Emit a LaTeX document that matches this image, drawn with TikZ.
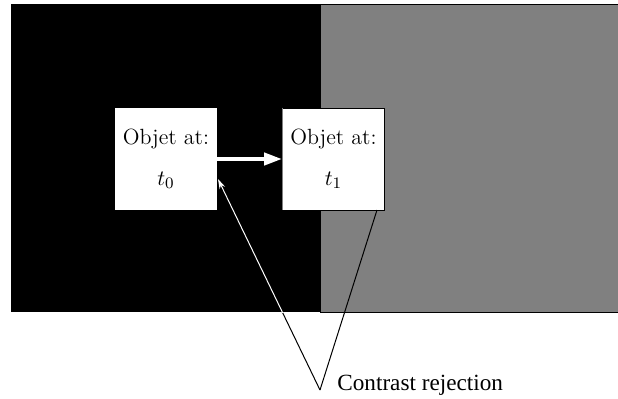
\documentclass[tikz,border=0pt]{standalone}
\usepackage{fontspec}
\newfontfamily\timesfont{Liberation Serif}
\usetikzlibrary{arrows.meta,positioning}
\begin{document}
\begin{tikzpicture}[x=0.5pt,y=-0.5pt,
  objbox/.style={fill=white, minimum width=51pt, minimum height=51pt, inner sep=0pt,
    align=center, font=\fontsize{11}{20.5}\selectfont},
  ray/.style={line width=0.5pt}]
\useasboundingbox (0,0) rectangle (618,398);
% background
\fill[black] (11,4) rectangle (320,312);
\draw[fill=gray] (320,4) rectangle (622,312);
% objects
\node[objbox] (t0box) at (166,159) {Objet at:\\$t_0$};
\node[objbox, draw=black] (t1box) at (333.5,159) {Objet at:\\$t_1$};
\draw[gray] (t1box.north west) -- (t1box.south west);
\draw[white, line width=2pt, -{Triangle[length=9pt,width=6pt]}] (t0box.east) -- (t1box.west);
% label
\node[anchor=base west, inner sep=0pt, font=\timesfont\fontsize{11.6}{14}\selectfont] (rej) at (337,390) {Contrast rejection};
\coordinate (apex) at (320,390);
\coordinate (hit0) at (218,179);
\coordinate (hit1) at (377,210);
\draw[ray, -{Stealth[length=5pt,width=3pt]}] (apex) -- (hit0);
\draw[ray] (apex) -- (hit1);
\begin{scope}
  \clip (11,4) rectangle (320,312);
  \draw[ray, white, -{Stealth[length=5pt,width=3pt]}] (apex) -- (hit0);
\end{scope}
\end{tikzpicture}
\end{document}
